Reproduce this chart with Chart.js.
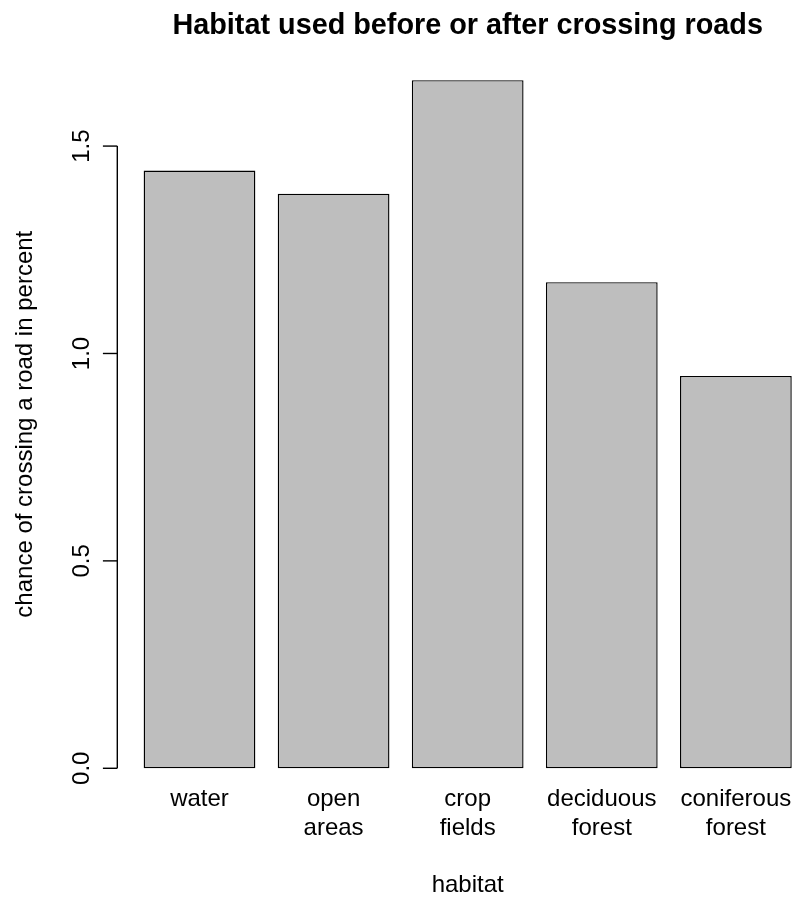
<!DOCTYPE html>
<html>
<head>
<meta charset="utf-8">
<title>Habitat used before or after crossing roads</title>
<script src="https://cdn.jsdelivr.net/npm/chart.js@4/dist/chart.umd.min.js"></script>
<style>
  html, body { margin: 0; padding: 0; background: #ffffff; }
  canvas { display: block; }
</style>
</head>
<body>
<canvas id="chart" width="793" height="897"></canvas>
<script>
// Habitat categories (each entry is the lines of its axis label)
const habitats = [
  ['water'],
  ['open', 'areas'],
  ['crop', 'fields'],
  ['deciduous', 'forest'],
  ['coniferous', 'forest']
];

// Chance of crossing a road, in percent
const crossingChance = [1.441, 1.385, 1.659, 1.172, 0.946];

// Value axis ticks and their labels
const yTicks = [0, 0.5, 1.0, 1.5];
const yTickLabels = ['0.0', '0.5', '1.0', '1.5'];

const titleText = 'Habitat used before or after crossing roads';
const xTitle = 'habitat';
const yTitle = 'chance of crossing a road in percent';

const FONT = '"Liberation Sans", Arial, Helvetica, sans-serif';
const LINE = 28.8; // one margin line of text

// Value range padded by 4% like a classic statistics plot
const yMax = Math.max(...crossingChance);
const yPad = yMax * 0.04;

// Axes, tick labels and titles drawn from the chart's own scales
const baseAxes = {
  id: 'baseAxes',
  afterDraw(chart) {
    const ctx = chart.ctx;
    const area = chart.chartArea;
    const xs = chart.scales.x;
    const ys = chart.scales.y;
    ctx.save();
    ctx.strokeStyle = '#000';
    ctx.fillStyle = '#000';
    ctx.lineWidth = 1.4;

    // value axis line spanning first to last tick
    const axisX = area.left;
    ctx.beginPath();
    ctx.moveTo(axisX, ys.getPixelForValue(yTicks[0]));
    ctx.lineTo(axisX, ys.getPixelForValue(yTicks[yTicks.length - 1]));
    ctx.stroke();

    // tick marks and rotated labels
    ctx.font = '24px ' + FONT;
    yTicks.forEach((v, i) => {
      const py = ys.getPixelForValue(v);
      ctx.beginPath();
      ctx.moveTo(axisX - LINE / 2, py);
      ctx.lineTo(axisX, py);
      ctx.stroke();
      ctx.save();
      ctx.translate(axisX - LINE, py);
      ctx.rotate(-Math.PI / 2);
      ctx.textAlign = 'center';
      ctx.textBaseline = 'alphabetic';
      ctx.fillText(yTickLabels[i], 0, 0);
      ctx.restore();
    });

    // category labels under each bar
    ctx.textAlign = 'center';
    ctx.textBaseline = 'alphabetic';
    habitats.forEach((lines, i) => {
      const px = xs.getPixelForValue(i);
      lines.forEach((t, j) => {
        ctx.fillText(t, px, area.bottom + 10.2 + j * LINE);
      });
    });

    // centre of the plotting region
    const cx = xs.getPixelForValue((habitats.length - 1) / 2);

    // x axis title
    ctx.fillText(xTitle, cx, area.bottom + 96.2);

    // y axis title
    ctx.save();
    ctx.translate(axisX - 85.3, (area.top + area.bottom) / 2);
    ctx.rotate(-Math.PI / 2);
    ctx.textAlign = 'center';
    ctx.fillText(yTitle, 0, 0);
    ctx.restore();

    // main title
    ctx.font = 'bold 28.8px ' + FONT;
    ctx.fillText(titleText, cx, area.top - 19.1);

    ctx.restore();
  }
};

new Chart(document.getElementById('chart'), {
  type: 'bar',
  data: {
    datasets: [{
      data: crossingChance.map((v, i) => ({ x: i, y: v })),
      backgroundColor: '#bebebe',
      borderColor: '#000000',
      borderWidth: 1.4,
      borderSkipped: false,
      barPercentage: 1 / 1.2,
      categoryPercentage: 1
    }]
  },
  options: {
    responsive: false,
    devicePixelRatio: 1,
    animation: false,
    layout: {
      padding: { left: 117.3, right: 0, top: 52.6, bottom: 101.2 }
    },
    scales: {
      x: {
        type: 'linear',
        min: -0.613,
        max: 4.426,
        offset: false,
        grid: { offset: false },
        display: false,
        // one tick per habitat, so each bar slot is one unit wide
        afterBuildTicks: (scale) => {
          scale.ticks = habitats.map((_, i) => ({ value: i }));
        }
      },
      y: { type: 'linear', min: -yPad, max: yMax + yPad, display: false }
    },
    plugins: {
      legend: { display: false },
      tooltip: { enabled: false },
      title: { display: false }
    }
  },
  plugins: [baseAxes]
});
</script>
</body>
</html>
